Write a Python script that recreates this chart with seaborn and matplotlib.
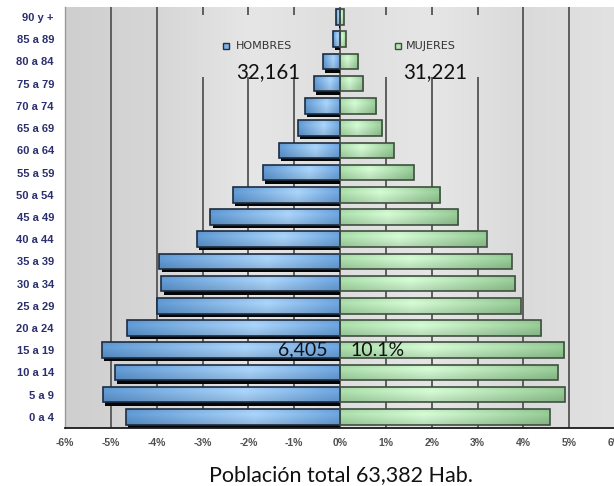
import numpy as np
import pandas as pd
import matplotlib
matplotlib.use("Agg")
import matplotlib.pyplot as plt
from matplotlib.colors import to_rgb, LinearSegmentedColormap
from matplotlib.patches import Rectangle
import seaborn as sns

# Age groups, top to bottom
grupos = ["90 y +", "85 a 89", "80 a 84", "75 a 79", "70 a 74", "65 a 69",
          "60 a 64", "55 a 59", "50 a 54", "45 a 49", "40 a 44", "35 a 39",
          "30 a 34", "25 a 29", "20 a 24", "15 a 19", "10 a 14", "5 a 9", "0 a 4"]
# Share of total population (%)
hombres = [-0.08, -0.16, -0.37, -0.57, -0.77, -0.92, -1.33, -1.69, -2.34, -2.83,
           -3.13, -3.94, -3.90, -4.00, -4.64, -5.20, -4.91, -5.17, -4.68]
mujeres = [0.08, 0.13, 0.40, 0.51, 0.79, 0.92, 1.17, 1.61, 2.19, 2.58,
           3.20, 3.75, 3.82, 3.94, 4.39, 4.89, 4.75, 4.90, 4.58]
xticks = [-6, -5, -4, -3, -2, -1, 0, 1, 2, 3, 4, 5, 6]
total_hombres = "32,161"
total_mujeres = "31,221"
grupo_destacado = "15 a 19"
valor_destacado = "6,405"
pct_destacado = "10.1%"
titulo = "Población total 63,382 Hab."

df = pd.DataFrame({
    "grupo": grupos * 2,
    "pct": hombres + mujeres,
    "sexo": ["HOMBRES"] * len(grupos) + ["MUJERES"] * len(grupos),
})

sns.set_theme(style="white")
plt.rcParams["font.family"] = ["Liberation Sans", "DejaVu Sans"]

fig = plt.figure(figsize=(6.14, 4.86), dpi=100)
ax = fig.add_axes([65 / 614, 58 / 486, 550 / 614, 421 / 486])

sns.barplot(data=df, y="grupo", x="pct", hue="sexo", order=grupos,
            hue_order=["HOMBRES", "MUJERES"], dodge=False, orient="h",
            width=0.7, palette=["#7fb2e5", "#b5e6b5"], legend=False, ax=ax)

YLIM = (len(grupos) - 0.5, -0.45)
ax.set_xlim(-6, 6)
ax.set_ylim(*YLIM)

# plot area background: soft gray gradient
bg = LinearSegmentedColormap.from_list(
    "bg", ["#cfcfcf", "#d6d6d6", "#e6e6e6", "#dedede", "#e6e6e6", "#dadada", "#e2e2e2"])
ax.imshow(np.linspace(0, 1, 256)[None, :], cmap=bg, aspect="auto",
          extent=(-6, 6, YLIM[0], YLIM[1]), zorder=-2)

# vertical gridlines, interrupted behind the two legend entries
ax.grid(False)
legend_gap = (-0.09, 2.70)
for xv in xticks[1:-1]:
    if -3 <= xv <= -1 or 1 <= xv <= 3:
        segs = [(YLIM[1], legend_gap[0]), (legend_gap[1], YLIM[0])]
    else:
        segs = [(YLIM[1], YLIM[0])]
    for y0, y1 in segs:
        ax.plot([xv, xv], [y0, y1], color="#5e5e5e", linewidth=1.4, zorder=0.5,
                solid_capstyle="butt")

# glossy bars; the male ones carry a drop shadow
male_cols = [to_rgb("#6aa2dc"), to_rgb("#a6d0f6"), to_rgb("#5f98d2")]
fem_cols = [to_rgb("#a8dba8"), to_rgb("#d0f6d0"), to_rgb("#93c893")]


def shade(cols, n=120, m=12):
    t = np.linspace(0, 1, n)
    c0, c1, c2 = [np.array(c) for c in cols]
    row = np.where(t[:, None] < 0.4,
                   c0 + (c1 - c0) * (t[:, None] / 0.4),
                   c1 + (c2 - c1) * ((t[:, None] - 0.4) / 0.6))
    v = np.linspace(0, 1, m)
    fac = 1.03 - 0.14 * np.abs(v - 0.3) / 0.7
    img = row[None, :, :] * fac[:, None, None]
    return np.clip(img, 0, 1)


for p in list(ax.patches):
    bb = p.get_bbox()
    xa, xb = sorted([bb.x0, bb.x1])
    ya, yb = sorted([bb.y0, bb.y1])
    if xb - xa == 0:
        continue
    if xa < 0:
        ax.add_patch(Rectangle((xa + 0.05, ya + 0.15), xb - xa - 0.05, yb - ya,
                               facecolor="#050505", edgecolor="none", zorder=0.95))
        img = shade(male_cols)[:, ::-1, :]
        ec = "#1d2c40"
    else:
        img = shade(fem_cols)
        ec = "#3f4f3f"
    im = ax.imshow(img, aspect="auto", extent=(xa, xb, yb, ya), zorder=1.05,
                   interpolation="bilinear")
    im.set_clip_path(p)
    p.set_facecolor("none")
    p.set_edgecolor(ec)
    p.set_linewidth(1.2)
    p.set_zorder(1.1)

ax.set_xlim(-6, 6)
ax.set_ylim(*YLIM)

# axes styling
ax.set_xticks(xticks)
ax.set_xticklabels([f"{v}%" for v in xticks])
ax.set_xlabel("")
ax.set_ylabel("")
for s in ["top", "right"]:
    ax.spines[s].set_visible(False)
ax.spines["left"].set_color("#9a9a9a")
ax.spines["left"].set_linewidth(1.0)
ax.spines["bottom"].set_color("#1a1a1a")
ax.spines["bottom"].set_linewidth(1.3)
ax.tick_params(axis="x", direction="out", length=4, width=1.2, color="#333333",
               pad=3, labelsize=7.5, labelcolor="#505050")
ax.tick_params(axis="y", length=0, pad=8, labelsize=8, labelcolor="#2b2f6e")
for lab in ax.get_xticklabels() + ax.get_yticklabels():
    lab.set_fontweight("bold")

# legend entries
ax.plot([-2.49], [1.31], marker="s", markersize=5, markerfacecolor="#7fb2e5",
        markeredgecolor="#1f2f45", markeredgewidth=1, linestyle="none", zorder=3)
ax.text(-2.28, 1.31, "HOMBRES", fontsize=8, color="#333333",
        va="center", ha="left", zorder=3, family=["DejaVu Sans"])
ax.plot([1.27], [1.31], marker="s", markersize=5, markerfacecolor="#b5e6b5",
        markeredgecolor="#3d4f3d", markeredgewidth=1, linestyle="none", zorder=3)
ax.text(1.44, 1.31, "MUJERES", fontsize=8, color="#333333",
        va="center", ha="left", zorder=3, family=["DejaVu Sans"])

# totals
num_font = ["Lato", "DejaVu Sans"]
ax.text(-1.57, 2.48, total_hombres, fontsize=14.8, color="#111111",
        ha="center", va="center", zorder=3, family=num_font)
ax.text(2.07, 2.48, total_mujeres, fontsize=14.8, color="#111111",
        ha="center", va="center", zorder=3, family=num_font)

yi = grupos.index(grupo_destacado)
ax.text(-0.26, yi, valor_destacado, fontsize=14, color="#111111",
        ha="right", va="center", zorder=3, family=num_font)
ax.text(0.22, yi, pct_destacado, fontsize=14, color="#111111",
        ha="left", va="center", zorder=3, family=num_font)

fig.text(341 / 614, 1 - 475 / 486, titulo, fontsize=15.5, color="#111111",
         ha="center", va="center", family=num_font)

fig.savefig("out.png", dpi=100, facecolor="white")
